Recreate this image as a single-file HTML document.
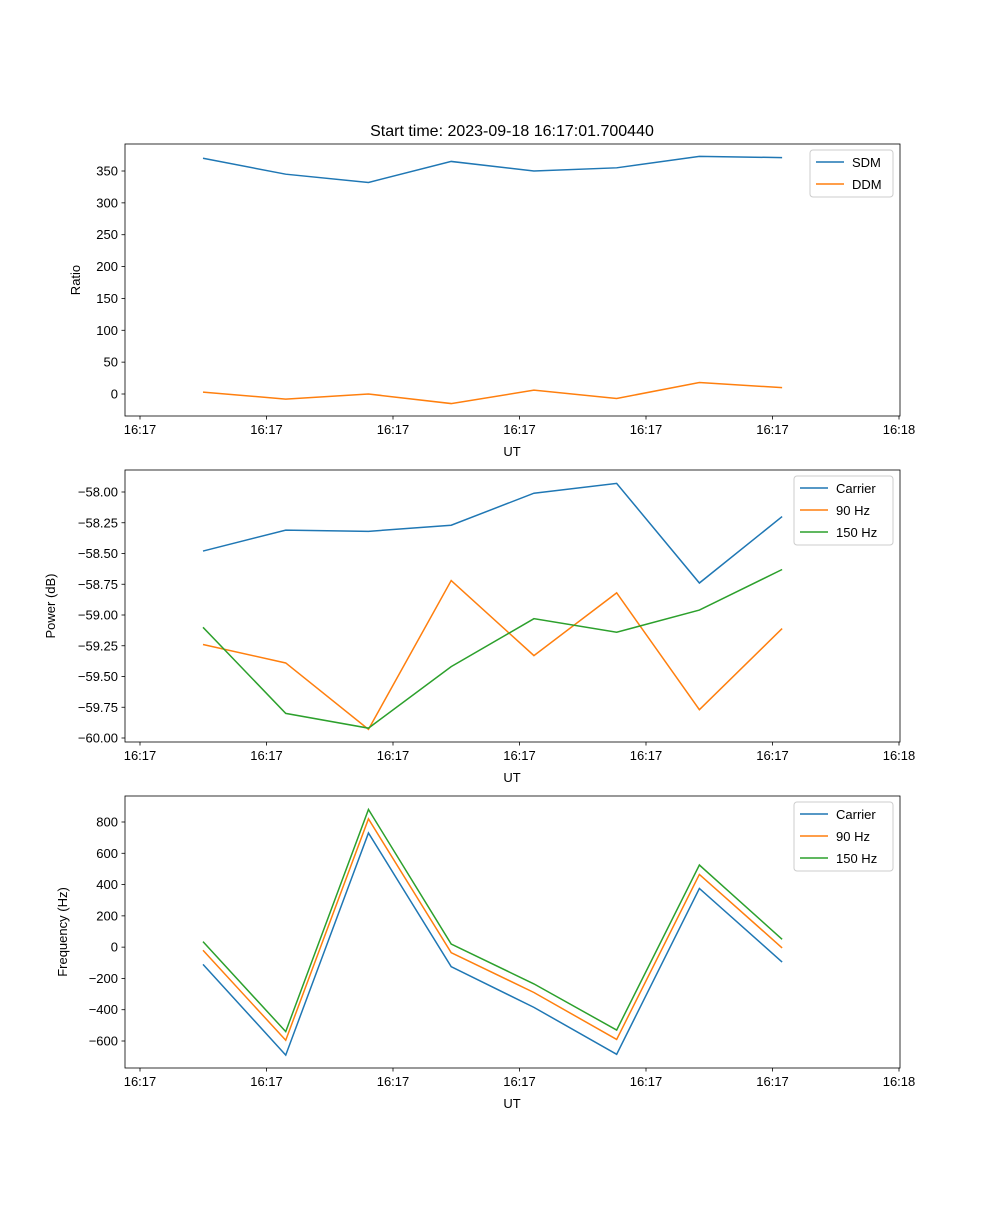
<!DOCTYPE html>
<html><head><meta charset="utf-8"><style>
body{margin:0;background:#fff;}
svg text{font-family:"Liberation Sans","DejaVu Sans",sans-serif;fill:#000;}
</style></head><body>
<svg id="fig" width="1000" height="1200" viewBox="0 0 1000 1200" xmlns="http://www.w3.org/2000/svg"></svg>
<script>
const times = [4.98, 11.52, 18.06, 24.6, 31.14, 37.68, 44.22, 50.76];
const xTickVals = [0, 10, 20, 30, 40, 50, 60];
const xTickLabels = ["16:17","16:17","16:17","16:17","16:17","16:17","16:18"];
const sdm = [370, 345, 332, 365, 350, 355, 373, 371];
const ddm = [3, -8, 0, -15, 6, -7, 18, 10];
const ratioTicks = [0, 50, 100, 150, 200, 250, 300, 350];
const powCarrier = [-58.48, -58.31, -58.32, -58.27, -58.01, -57.93, -58.74, -58.20];
const pow90 = [-59.24, -59.39, -59.93, -58.72, -59.33, -58.82, -59.77, -59.11];
const pow150 = [-59.10, -59.80, -59.92, -59.42, -59.03, -59.14, -58.96, -58.63];
const powTicks = [-60.0, -59.75, -59.5, -59.25, -59.0, -58.75, -58.5, -58.25, -58.0];
const frqCarrier = [-110, -690, 730, -125, -385, -685, 375, -95];
const frq90 = [-20, -595, 820, -35, -290, -590, 465, -5];
const frq150 = [35, -540, 880, 20, -235, -530, 525, 50];
const frqTicks = [-600, -400, -200, 0, 200, 400, 600, 800];

const svg = document.getElementById('fig');
const NS = 'http://www.w3.org/2000/svg';
function mk(tag, attrs, parent){const e=document.createElementNS(NS,tag);for(const k in attrs)e.setAttribute(k,attrs[k]);(parent||svg).appendChild(e);return e;}
const X0=125,X1=900;
function xs(t){return 140 + t*12.65;}
const C=['#1f77b4','#ff7f0e','#2ca02c'];

const tt = mk('text',{x:512,y:136,'font-size':16,'text-anchor':'middle'});


tt.textContent='Start time: 2023-09-18 16:17:01.700440';

function panel(name, top, bottom, vTop, yTop, vBot, yBot, ticks, fmt, ylabel, series, names, leg){
  const g=mk('g',{});
  
  
  const ys=v=>yTop+(v-vTop)*(yBot-yTop)/(vBot-vTop);
  series.forEach((s,i)=>{
    const p=mk('polyline',{points:s.map((v,j)=>xs(times[j])+','+ys(v)).join(' '),fill:'none',stroke:C[i],'stroke-width':1.5},g);
    
    
  });
  mk('rect',{x:X0,y:top,width:X1-X0,height:bottom-top,fill:'none',stroke:'#000','stroke-width':0.8},g);
  ticks.forEach(v=>{
    const y=ys(v);
    mk('line',{x1:X0-3.5,x2:X0,y1:y,y2:y,stroke:'#000','stroke-width':0.8},g);
    const t=mk('text',{x:X0-7,y:y+4.5,'font-size':13,'text-anchor':'end'},g);
    
    
    t.textContent=fmt(v);
  });
  xTickVals.forEach((v,i)=>{
    const x=xs(v);
    mk('line',{x1:x,x2:x,y1:bottom,y2:bottom+3.5,stroke:'#000','stroke-width':0.8},g);
    const t=mk('text',{x:x,y:bottom+18,'font-size':13,'text-anchor':'middle'},g);
    
    
    t.textContent=xTickLabels[i];
  });
  const xl=mk('text',{x:512,y:bottom+40,'font-size':13,'text-anchor':'middle'},g);
  
  
  xl.textContent='UT';
  const yc=(top+bottom)/2;
  const yl=mk('text',{x:leg.yl,y:yc,'font-size':13,'text-anchor':'middle',transform:`rotate(-90 ${leg.yl} ${yc})`},g);
  
  
  yl.textContent=ylabel;
  const lg=mk('g',{},g);
  
  
  mk('rect',{x:leg.x,y:top+6,width:893-leg.x,height:names.length*22+3,rx:3,fill:'#fff','fill-opacity':0.8,stroke:'#ccc'},lg);
  names.forEach((n,i)=>{
    const y=top+18+i*22;
    mk('line',{x1:leg.x+6,x2:leg.x+34,y1:y,y2:y,stroke:C[i],'stroke-width':1.5},lg);
    const t=mk('text',{x:leg.x+42,y:y+5,'font-size':13},lg);
    
    
    t.textContent=n;
  });
}
const minus=s=>s.replace('-','\u2212');
panel('ratio',144,416,350,171,0,394,ratioTicks,v=>minus(String(v)),'Ratio',[sdm,ddm],['SDM','DDM'],{x:810,yl:80});
panel('power',470,742,-58,492,-60,738,powTicks,v=>minus(v.toFixed(2)),'Power (dB)',[powCarrier,pow90,pow150],['Carrier','90 Hz','150 Hz'],{x:794,yl:55});
panel('frequency',796,1068,800,822,-600,1041,frqTicks,v=>minus(String(v)),'Frequency (Hz)',[frqCarrier,frq90,frq150],['Carrier','90 Hz','150 Hz'],{x:794,yl:67});
</script>
</body></html>
